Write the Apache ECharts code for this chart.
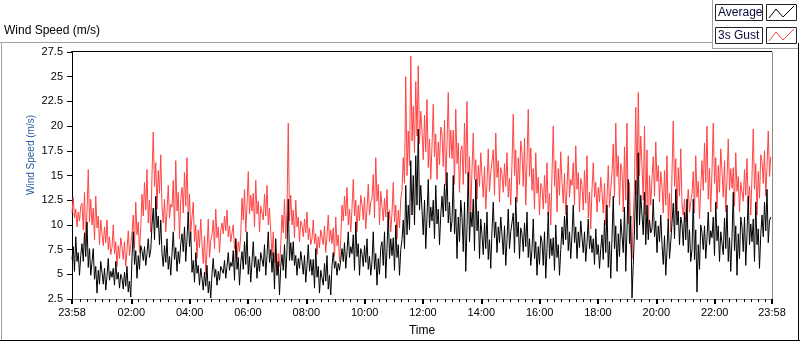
<!DOCTYPE html>
<html><head><meta charset="utf-8">
<script src="https://cdn.jsdelivr.net/npm/echarts@6/dist/echarts.min.js"></script>
<style>html,body{margin:0;padding:0;background:#fff}#c{width:800px;height:342px}</style>
</head><body><div id="c"></div>
<script>
// Time axis in minutes relative to 00:00; the record starts at 23:58 (-2)
const startMinute = -2;
const samplesPerDay = 560;
const sampleMinutes = 1440 / samplesPerDay;

const gust = [
11.2,12.8,10.7,11.6,9.8,11.3,10.4,11.9, 12.2,9.5,13.3,8.0,11.4,15.6,10.3,12.6, 10.0,11.7,8.5,12.9,9.7,10.9,8.0,10.5, 9.1,7.9,9.8,8.2,10.5,7.5,8.8,7.0,
7.7,10.0,7.1,8.3,5.8,7.9,6.6,8.7, 7.8,6.5,8.3,5.8,7.4,9.4,6.9,8.0, 9.2,11.0,7.7,12.3,9.0,10.3,7.2,9.8, 13.1,10.9,14.3,11.5,15.6,10.2,12.5,9.3,
15.1,19.4,13.9,16.3,11.6,15.5,13.2,17.1, 11.9,10.2,12.6,9.3,11.4,14.0,10.7,12.1, 11.8,14.5,9.4,16.5,11.4,13.3,8.6,12.6, 13.8,11.2,15.3,11.9,16.8,10.4,13.1,9.3,
9.2,12.3,8.3,10.0,6.6,9.5,7.7,10.6, 8.1,6.1,8.9,5.0,7.5,10.6,6.7,8.4, 9.0,10.5,7.6,11.6,8.7,9.8,7.2,9.4, 10.2,9.1,10.9,9.4,11.5,8.8,9.9,8.3,
8.1,10.0,7.6,8.6,6.6,8.3,7.3,9.0, 12.7,10.5,13.6,9.3,12.0,15.4,11.1,13.0, 11.4,13.2,9.8,14.5,11.1,12.4,9.3,11.9, 12.1,10.5,13.1,10.9,14.0,10.0,11.7,9.3,
6.9,9.3,6.2,7.5,4.9,7.1,5.8,8.0, 11.0,9.2,12.6,8.6,11.5,20.3,10.4,13.0, 10.0,11.5,8.7,12.5,9.8,10.8,8.3,10.4, 10.0,8.8,10.6,9.2,11.3,8.5,9.7,8.0,
8.6,10.5,8.1,9.1,7.0,8.8,7.7,9.5, 9.3,8.0,9.9,7.2,8.9,11.0,8.3,9.5, 8.1,9.7,6.8,10.8,7.9,9.0,6.3,8.6, 12.0,10.4,12.9,10.9,13.8,10.0,11.6,9.3,
11.7,14.6,10.9,12.5,9.3,12.0,10.4,13.0, 12.1,10.5,12.8,9.6,11.6,14.1,11.0,12.3, 12.7,15.1,10.7,16.8,12.4,14.1,10.0,13.4, 11.9,10.4,12.7,10.8,13.6,9.9,11.5,9.3,
11.2,14.3,10.3,12.0,8.6,11.5,9.7,12.6, 13.5,16.8,14.2,25.0,15.0,19.5,16.0,27.1, 18.5,22.0,17.3,24.5,19.0,26.1,18.2,21.5, 19.5,16.6,21.1,17.4,22.7,15.8,18.7,14.6,
18.0,22.2,16.9,19.2,14.6,18.4,16.1,19.9, 19.2,15.9,20.6,14.0,18.2,23.4,16.8,19.6, 16.7,19.6,14.1,21.7,16.2,18.3,13.3,17.5, 18.0,14.1,20.3,15.2,22.5,13.0,16.9,11.3,
15.6,19.3,14.6,16.6,12.6,16.0,13.9,17.3, 15.0,12.8,15.9,11.6,14.3,17.7,13.4,15.3, 15.1,17.6,13.0,19.3,14.8,16.5,12.3,15.8, 15.2,13.3,16.2,13.9,17.3,12.8,14.7,12.0,
16.3,21.2,15.0,17.6,12.3,16.8,14.1,18.5, 17.3,13.9,18.8,12.0,16.4,21.7,14.9,17.8, 13.5,15.7,11.6,17.3,13.2,14.8,11.0,14.2, 13.8,11.6,15.0,12.2,16.3,10.9,13.2,10.0,
15.2,20.0,13.9,16.5,11.3,15.7,13.0,17.4, 14.3,12.2,15.2,11.0,13.7,17.0,12.8,14.6, 14.0,16.3,12.0,18.0,13.6,15.3,11.3,14.7, 14.0,11.5,15.5,12.2,17.0,10.7,13.3,9.6,
13.6,16.3,12.8,14.3,11.3,13.8,12.3,14.8, 13.3,11.2,14.2,10.0,12.7,16.0,11.8,13.6, 15.3,18.2,12.8,20.3,14.9,17.0,12.0,16.2, 15.5,11.3,17.9,12.5,20.3,10.1,14.3,8.3,
6.6,10.5,14.0,21.9,13.0,23.4,15.0,19.0, 16.0,12.5,20.0,11.0,17.6,9.0,15.0,12.0, 14.7,16.9,12.9,18.4,14.4,16.0,12.3,15.4, 13.9,11.2,15.5,12.0,17.0,10.5,13.2,9.3,
15.3,20.5,13.9,16.7,11.0,15.8,12.9,17.7, 12.1,11.0,12.6,10.3,11.8,13.6,11.3,12.3, 13.2,15.4,11.2,17.0,12.8,14.4,10.6,13.8, 16.5,13.5,18.3,14.3,20.0,12.6,15.7,11.3,
15.5,20.3,14.2,16.8,11.6,16.0,13.3,17.7, 15.4,12.8,16.5,11.3,14.6,18.7,13.5,15.7, 13.7,15.8,11.9,17.3,13.4,14.9,11.3,14.3, 14.4,12.4,15.6,13.0,16.7,11.9,13.9,11.0,
14.9,19.7,13.6,16.2,11.0,15.4,12.7,17.1, 16.5,14.2,17.5,12.9,15.9,19.5,14.9,16.9
];

const average = [
6.5,7.8,5.3,8.8,6.3,7.2,4.9,6.9, 8.1,6.3,9.2,6.8,10.3,5.7,7.6,4.9, 5.1,7.6,4.5,5.8,3.1,5.4,4.0,6.3, 5.2,4.0,5.6,3.4,4.8,6.6,4.4,5.3,
4.7,5.6,3.9,6.3,4.5,5.2,3.6,5.0, 4.6,3.5,5.2,3.8,5.8,3.2,4.3,2.7, 6.7,9.3,6.0,7.4,4.6,6.9,5.5,7.9, 7.4,6.4,7.8,5.9,7.1,8.6,6.7,7.5,
10.0,11.7,8.5,12.9,9.7,10.9,8.0,10.5, 7.1,5.8,7.9,6.2,8.6,5.5,6.8,4.9, 7.1,9.3,6.5,7.7,5.3,7.3,6.1,8.1, 9.1,7.3,9.8,6.3,8.6,11.3,7.8,9.3,
5.2,6.4,4.2,7.2,5.1,5.9,3.9,5.6, 4.6,3.4,5.2,3.8,5.9,3.1,4.3,2.6, 5.1,6.6,4.7,5.5,3.9,5.3,4.4,5.8, 6.0,5.1,6.4,4.6,5.8,7.2,5.4,6.2,
5.8,7.4,4.4,8.6,5.5,6.7,3.9,6.2, 7.3,5.5,8.3,6.0,9.3,5.0,6.8,4.2, 6.3,8.3,5.7,6.8,4.6,6.5,5.3,7.2, 7.3,5.8,8.0,4.9,6.9,9.3,6.2,7.5,
5.2,7.2,3.5,8.6,4.9,6.3,2.9,5.8, 7.0,5.4,8.0,4.6,7.5,12.6,6.4,8.2, 6.4,8.3,5.9,6.9,4.9,6.6,5.6,7.3, 6.3,5.0,6.9,4.2,5.9,8.0,5.3,6.5,
4.9,6.5,3.6,7.6,4.7,5.8,3.1,5.4, 5.3,3.9,6.1,4.3,6.9,3.5,4.9,2.9, 5.9,7.2,5.6,6.3,4.9,6.1,5.4,6.5, 7.6,6.3,8.2,5.6,7.3,9.3,6.7,7.8,
7.1,9.0,5.4,10.3,6.8,8.1,4.9,7.6, 7.1,5.8,7.9,6.2,8.6,5.5,6.8,4.9, 6.3,9.3,5.5,7.1,3.9,6.6,5.0,7.7, 8.3,5.9,9.3,4.6,7.6,11.3,6.6,8.6,
6.9,8.7,5.4,10.0,6.7,8.0,4.9,7.5, 8.5,10.5,7.6,14.0,9.0,12.0,9.5,16.5, 11.0,15.0,10.0,17.0,12.0,19.7,11.5,14.0, 11.5,9.0,12.5,7.6,10.8,14.6,9.7,11.8,
10.4,12.5,8.6,14.0,10.1,11.6,8.0,11.0, 12.9,10.8,14.1,11.4,15.3,10.2,12.3,9.3, 10.4,15.0,9.1,11.6,6.6,10.8,8.3,12.5, 10.8,7.3,12.3,5.3,9.8,15.3,8.3,11.3,
9.8,12.6,7.4,14.6,9.4,11.4,6.6,10.6, 9.0,7.0,10.2,7.6,11.3,6.5,8.5,5.6, 9.5,12.3,8.7,10.3,7.2,9.8,8.2,10.8, 9.0,7.0,9.9,5.9,8.5,11.6,7.6,9.3,
9.1,11.2,7.2,12.8,8.8,10.3,6.6,9.7, 9.1,7.3,10.2,7.8,11.3,6.7,8.6,5.9, 7.5,10.6,6.6,8.3,4.9,7.8,6.0,8.9, 8.3,5.9,9.3,4.6,7.6,11.3,6.6,8.6,
6.9,8.7,5.4,10.0,6.7,8.0,4.9,7.5, 9.8,8.0,10.9,8.5,12.0,7.4,9.3,6.6, 9.0,12.0,8.2,9.8,6.6,9.3,7.7,10.4, 8.7,7.2,9.3,6.3,8.2,10.6,7.6,8.9,
7.2,8.6,6.0,9.6,7.0,8.0,5.6,7.6, 9.0,6.5,10.5,7.2,12.0,5.7,8.3,4.6, 8.7,12.9,7.6,9.9,5.3,9.1,6.8,10.6, 10.4,7.2,11.8,5.3,9.5,14.6,8.1,10.9,
2.6,6.0,9.5,14.5,8.5,17.3,10.0,13.0, 11.0,9.0,13.3,8.0,12.0,8.5,10.5,9.2, 9.6,12.6,8.8,10.4,7.2,9.9,8.3,11.0, 8.0,6.0,8.9,4.9,7.5,10.6,6.6,8.3,
10.2,12.2,8.6,13.6,10.0,11.4,8.0,10.8, 10.1,7.9,11.3,8.5,12.6,7.2,9.5,6.3, 7.5,12.6,6.5,9.5,3.2,8.0,5.5,10.0, 9.2,7.5,9.9,6.6,8.7,11.3,8.0,9.4,
8.7,10.8,6.9,12.3,8.4,9.9,6.3,9.3, 9.3,7.0,10.7,7.6,12.0,6.3,8.7,5.3, 8.7,13.3,7.4,9.9,4.9,9.1,6.6,10.8, 9.8,7.3,10.8,5.9,9.1,12.9,8.0,10.1,
8.3,10.6,6.3,12.3,8.0,9.6,5.6,9.0, 11.0,8.8,12.3,9.4,13.6,8.2,10.4,10.8
];

const xTickMinutes = [-2,120,240,360,480,600,720,840,960,1080,1200,1320,1438];
const xTickLabels = ['23:58','02:00','04:00','06:00','08:00','10:00','12:00','14:00','16:00','18:00','20:00','22:00','23:58'];
const seriesNames = ['Average','3s Gust'];

const minorTicks = [];
for (let m = 15; m < 1438; m += 15) { if (m % 120 !== 0) minorTicks.push(m); }

const FONT = '"Liberation Sans", Arial, sans-serif';
const toPts = arr => arr.map((v, i) => [startMinute + i * sampleMinutes, v]);

const chart = echarts.init(document.getElementById('c'), null, {renderer: 'canvas'});
chart.setOption({
  animation: false,
  backgroundColor: '#fff',
  grid: {left: 72, right: 28, top: 52, bottom: 39},
  xAxis: [{
    type: 'value', min: -2, max: 1438,
    axisLine: {onZero: false, lineStyle: {color: '#8c8c8c', width: 1}},
    axisTick: {customValues: xTickMinutes, length: 5, lineStyle: {color: '#000', width: 2}},
    axisLabel: {customValues: xTickMinutes, margin: 8, fontSize: 11, fontFamily: FONT, color: '#000',
      formatter: v => { const k = xTickMinutes.indexOf(v); return k >= 0 ? xTickLabels[k] : ''; }},
    splitLine: {show: false},
    name: 'Time', nameLocation: 'middle', nameGap: 26,
    nameTextStyle: {fontSize: 12, fontFamily: FONT, color: '#000'}
  }, {
    type: 'value', min: -2, max: 1438, position: 'bottom',
    axisLine: {show: false, onZero: false},
    axisTick: {customValues: minorTicks, length: 3, lineStyle: {color: '#000', width: 1}},
    axisLabel: {show: false},
    splitLine: {show: false}
  }],
  yAxis: {
    type: 'value', min: 2.5, max: 27.5, interval: 2.5,
    axisLine: {show: true, onZero: false, lineStyle: {color: '#000', width: 1}},
    axisTick: {show: true, length: 5, lineStyle: {color: '#000'}},
    axisLabel: {margin: 9, fontSize: 11, fontFamily: FONT, color: '#000'},
    splitLine: {show: false}
  },
  series: [{
    name: seriesNames[1], type: 'line', data: toPts(gust), showSymbol: false, silent: true,
    sampling: null, lineStyle: {color: '#ff4444', width: 1}
  }, {
    name: seriesNames[0], type: 'line', data: toPts(average), showSymbol: false, silent: true,
    sampling: null, lineStyle: {color: '#000', width: 1}
  }],
  graphic: [
    {type: 'text', x: 4, y: 25, style: {text: 'Wind Speed (m/s)', fontSize: 12, fontFamily: FONT, fill: '#000', verticalAlign: 'top'}},
    {type: 'text', x: 31, y: 155, rotation: Math.PI / 2, style: {text: 'Wind Speed (m/s)', fontSize: 10, fontFamily: FONT, fill: '#2a5aa0', align: 'center', verticalAlign: 'middle'}},
    // outer frame
    {type: 'line', shape: {x1: 0, y1: 42.5, x2: 712, y2: 42.5}, style: {stroke: '#a0a0a0', lineWidth: 1}},
    {type: 'line', shape: {x1: 1.5, y1: 42, x2: 1.5, y2: 341}, style: {stroke: '#a0a0a0', lineWidth: 1}},
    {type: 'line', shape: {x1: 0, y1: 340.5, x2: 800, y2: 340.5}, style: {stroke: '#000', lineWidth: 1}},
    {type: 'line', shape: {x1: 798.5, y1: 43, x2: 798.5, y2: 341}, style: {stroke: '#000', lineWidth: 1}},
    // plot frame top / right
    {type: 'line', shape: {x1: 71.5, y1: 51.5, x2: 772, y2: 51.5}, style: {stroke: '#000', lineWidth: 1}},
    {type: 'line', shape: {x1: 72, y1: 51, x2: 72, y2: 53}, style: {stroke: '#000', lineWidth: 1}},
    {type: 'line', shape: {x1: 772.5, y1: 52, x2: 772.5, y2: 303}, style: {stroke: '#8c8c8c', lineWidth: 1}},
    // legend panel
    {type: 'line', shape: {x1: 712.5, y1: 0, x2: 712.5, y2: 48}, style: {stroke: '#a0a0a0', lineWidth: 1}},
    {type: 'line', shape: {x1: 712, y1: 48.5, x2: 798, y2: 48.5}, style: {stroke: '#a0a0a0', lineWidth: 1}},
    {type: 'rect', shape: {x: 715.5, y: 4.5, width: 47, height: 16}, style: {fill: '#fff', stroke: '#222', lineWidth: 1}},
    {type: 'rect', shape: {x: 766.5, y: 4.5, width: 30, height: 16}, style: {fill: '#fff', stroke: '#222', lineWidth: 1}},
    {type: 'rect', shape: {x: 715.5, y: 27.5, width: 47, height: 16}, style: {fill: '#fff', stroke: '#222', lineWidth: 1}},
    {type: 'rect', shape: {x: 766.5, y: 27.5, width: 30, height: 16}, style: {fill: '#fff', stroke: '#222', lineWidth: 1}},
    {type: 'text', x: 718, y: 12.5, style: {text: seriesNames[0], fontSize: 12, fontFamily: FONT, fill: '#0a0a3c', verticalAlign: 'middle'}},
    {type: 'text', x: 718, y: 35.5, style: {text: seriesNames[1], fontSize: 12, fontFamily: FONT, fill: '#0a0a3c', verticalAlign: 'middle'}},
    {type: 'polyline', shape: {points: [[769, 18], [776, 9], [783, 17], [794, 6]]}, style: {stroke: '#000', lineWidth: 1, fill: null}},
    {type: 'polyline', shape: {points: [[769, 41], [776, 32], [783, 40], [794, 29]]}, style: {stroke: '#ff4444', lineWidth: 1, fill: null}}
  ]
});
</script>
</body></html>
